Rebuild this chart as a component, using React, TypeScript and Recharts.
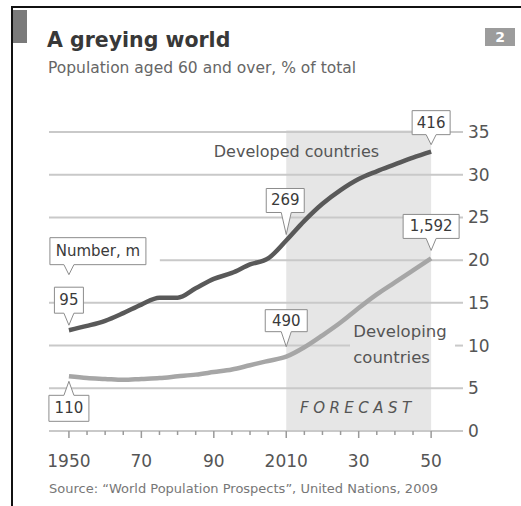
import React from 'react';
import { LineChart, Line, XAxis, YAxis, ReferenceArea, ReferenceLine, ReferenceDot } from 'recharts';

const years = [1950, 1955, 1960, 1965, 1970, 1975, 1980, 1985, 1990, 1995, 2000, 2005, 2010, 2015, 2020, 2025, 2030, 2035, 2040, 2045, 2050];
const developed = [11.8, 12.3, 12.9, 13.8, 14.8, 15.6, 15.6, 16.7, 17.8, 18.5, 19.5, 20.2, 22.3, 24.6, 26.6, 28.2, 29.5, 30.4, 31.2, 32.0, 32.7];
const developing = [6.4, 6.2, 6.1, 6.0, 6.1, 6.2, 6.4, 6.6, 6.9, 7.2, 7.7, 8.2, 8.7, 9.8, 11.2, 12.7, 14.4, 16.0, 17.4, 18.8, 20.2];
const yTicks = [0, 5, 10, 15, 20, 25, 30, 35];
const xMajorLabels: Record<number, string> = { 1950: '1950', 1970: '70', 1990: '90', 2010: '2010', 2030: '30', 2050: '50' };
const developedNumbers = [
  { year: 1950, label: '95' },
  { year: 2010, label: '269' },
  { year: 2050, label: '416' },
];
const developingNumbers = [
  { year: 1950, label: '110' },
  { year: 2010, label: '490' },
  { year: 2050, label: '1,592' },
];
const forecastStart = 2010;
const forecastEnd = 2050;
const xDomain: [number, number] = [1944.5, 2058.8];

const data = years.map((y, i) => ({ year: y, developed: developed[i], developing: developing[i] }));

const FONT = '"DejaVu Sans", sans-serif';

type CalloutStyle = { gap: number; w: number; h: number; ph: number; pw: number; dx: number; dir: 'down' | 'up'; fs?: number };

function Callout(props: any) {
  const { cx, cy, text, st } = props as { cx: number; cy: number; text: string; st: CalloutStyle };
  if (cx == null || cy == null) return null;
  const tx = cx;
  const ty = st.dir === 'down' ? cy - st.gap : cy + st.gap;
  const cb = tx + st.dx;
  const l = cb - st.w / 2;
  const r = cb + st.w / 2;
  let d = '';
  let mid = 0;
  if (st.dir === 'down') {
    const b = ty - st.ph;
    const t = b - st.h;
    d = `M${l},${t}H${r}V${b}H${tx + st.pw}L${tx},${ty}L${tx - st.pw},${b}H${l}Z`;
    mid = (t + b) / 2;
  } else {
    const t = ty + st.ph;
    const b = t + st.h;
    d = `M${l},${t}H${tx - st.pw}L${tx},${ty}L${tx + st.pw},${t}H${r}V${b}H${l}Z`;
    mid = (t + b) / 2;
  }
  return (
    <g>
      <path d={d} fill="#ffffff" stroke="#8c8c8c" strokeWidth={1} />
      <text x={cb} y={mid} textAnchor="middle" dominantBaseline="central" fontFamily={FONT} fontSize={st.fs ?? 15} fill="#3a3a3a">
        {text}
      </text>
    </g>
  );
}

function TextMark(props: any) {
  const { cx, cy, lines, italic, spacing, fs } = props;
  if (cx == null || cy == null) return null;
  return (
    <g>
      {(lines as string[]).map((s, i) => (
        <text key={i} x={cx} y={cy + i * 26} dominantBaseline="central" fontFamily={FONT} fontSize={fs} fill="#555555"
          fontStyle={italic ? 'italic' : 'normal'} letterSpacing={spacing || 0}>
          {s}
        </text>
      ))}
    </g>
  );
}

function XTick(props: any) {
  const { x, y, payload } = props;
  const v = payload.value as number;
  const major = xMajorLabels[v] !== undefined;
  return (
    <g>
      <line x1={x} x2={x} y1={y} y2={y + (major ? 7 : 4)} stroke="#9a9a9a" strokeWidth={1.5} />
      {major && (
        <text x={x} y={y + 36} textAnchor="middle" fontFamily={FONT} fontSize={17} fill="#555555">
          {xMajorLabels[v]}
        </text>
      )}
    </g>
  );
}

function YTick(props: any) {
  const { x, y, payload } = props;
  return (
    <text x={x} y={y} dominantBaseline="central" textAnchor="start" fontFamily={FONT} fontSize={17} fill="#555555">
      {payload.value}
    </text>
  );
}

const calloutStyles: Record<string, CalloutStyle> = {
  '95': { gap: 5, w: 29, h: 26, ph: 12, pw: 5, dx: 0, dir: 'down' },
  '269': { gap: 6, w: 38, h: 24, ph: 22, pw: 5, dx: -1, dir: 'down' },
  '416': { gap: 7, w: 38, h: 24, ph: 10, pw: 5, dx: 0, dir: 'down' },
  '110': { gap: 5, w: 40, h: 26, ph: 14, pw: 5, dx: 0, dir: 'up' },
  '490': { gap: 10, w: 42, h: 22, ph: 15, pw: 5, dx: 0, dir: 'down' },
  '1,592': { gap: 8, w: 56, h: 24, ph: 12, pw: 5, dx: 0, dir: 'down' },
};

const gridColor = '#c9c9c9';

export default function App() {
  const devVal = (yr: number) => developed[years.indexOf(yr)];
  const dvgVal = (yr: number) => developing[years.indexOf(yr)];
  return (
    <div style={{ position: 'absolute', left: 0, top: 0, width: 521, height: 506, background: '#ffffff', overflow: 'hidden' }}>
      {/* frame */}
      <div style={{ position: 'absolute', left: 11, top: 6, width: 2, height: 500, background: '#111' }} />
      <div style={{ position: 'absolute', left: 11, top: 6, width: 510, height: 2, background: '#111' }} />
      <div style={{ position: 'absolute', left: 13, top: 10, width: 14, height: 33, background: '#7a7a7a' }} />
      <div style={{ position: 'absolute', left: 485, top: 28, width: 30, height: 18, background: '#9c9c9c', color: '#fff', fontFamily: FONT, fontWeight: 'bold', fontSize: 14, lineHeight: '18px', textAlign: 'center' }}>2</div>
      <div style={{ position: 'absolute', left: 47, top: 28, fontFamily: FONT, fontWeight: 'bold', fontSize: 20.5, color: '#383838', whiteSpace: 'nowrap', lineHeight: '24px' }}>A greying world</div>
      <div style={{ position: 'absolute', left: 48, top: 59, fontFamily: FONT, fontSize: 15.5, color: '#666', whiteSpace: 'nowrap', lineHeight: '18px' }}>Population aged 60 and over, % of total</div>
      <div style={{ position: 'absolute', left: 49, top: 481, fontFamily: FONT, fontSize: 13, color: '#777', whiteSpace: 'nowrap', lineHeight: '16px' }}>Source: “World Population Prospects”, United Nations, 2009</div>
      <div style={{ position: 'absolute', left: 0, top: 0 }}>
        <LineChart width={521} height={506} data={data} margin={{ top: 132, right: 18, bottom: 45, left: 49 }}>
          <XAxis dataKey="year" type="number" domain={xDomain} ticks={years} interval={0} axisLine={false} tickLine={false} tickSize={0} tickMargin={0} height={30} tick={<XTick />} allowDataOverflow />
          <YAxis orientation="right" type="number" domain={[0, 35]} ticks={yTicks} interval={0} axisLine={false} tickLine={false} tickSize={0} tickMargin={5} width={40} tick={<YTick />} />
          <ReferenceArea x1={forecastStart} x2={forecastEnd} y1={0} y2={35.2} ifOverflow="visible" fill="#e6e6e6" fillOpacity={1} stroke="none" />
          {yTicks.map((t) => {
            if (t === 20) {
              return <ReferenceLine key={t} segment={[{ x: 1975.1, y: t }, { x: xDomain[1], y: t }]} stroke={gridColor} strokeWidth={2} />;
            }
            if (t === 10) {
              return [
                <ReferenceLine key="10a" segment={[{ x: xDomain[0], y: t }, { x: 2027.6, y: t }]} stroke={gridColor} strokeWidth={2} />,
                <ReferenceLine key="10b" segment={[{ x: 2056.6, y: t }, { x: xDomain[1], y: t }]} stroke={gridColor} strokeWidth={2} />,
              ];
            }
            return <ReferenceLine key={t} y={t} stroke={gridColor} strokeWidth={2} />;
          })}
          <Line type="monotone" dataKey="developing" stroke="#a6a6a6" strokeWidth={4.5} dot={false} isAnimationActive={false} />
          <Line type="monotone" dataKey="developed" stroke="#595959" strokeWidth={4.5} dot={false} isAnimationActive={false} />
          <ReferenceDot x={1990} y={32.66} r={0} shape={(p: any) => <TextMark {...p} lines={['Developed countries']} fs={16} />} />
          <ReferenceDot x={2028.5} y={11.6} r={0} shape={(p: any) => <TextMark {...p} lines={['Developing', 'countries']} fs={16.5} />} />
          <ReferenceDot x={2013.8} y={2.7} r={0} shape={(p: any) => <TextMark {...p} lines={['FORECAST']} fs={15} italic spacing={4.5} />} />
          <ReferenceDot x={1950} y={18.3} r={0} shape={(p: any) => <Callout {...p} text="Number, m" st={{ gap: 0, w: 96, h: 27, ph: 10, pw: 5, dx: 29, dir: 'down' }} />} />
          {developedNumbers.map((c) => (
            <ReferenceDot key={'d' + c.year} x={c.year} y={devVal(c.year)} r={0} shape={(p: any) => <Callout {...p} text={c.label} st={calloutStyles[c.label]} />} />
          ))}
          {developingNumbers.map((c) => (
            <ReferenceDot key={'g' + c.year} x={c.year} y={dvgVal(c.year)} r={0} shape={(p: any) => <Callout {...p} text={c.label} st={calloutStyles[c.label]} />} />
          ))}
        </LineChart>
      </div>
    </div>
  );
}
